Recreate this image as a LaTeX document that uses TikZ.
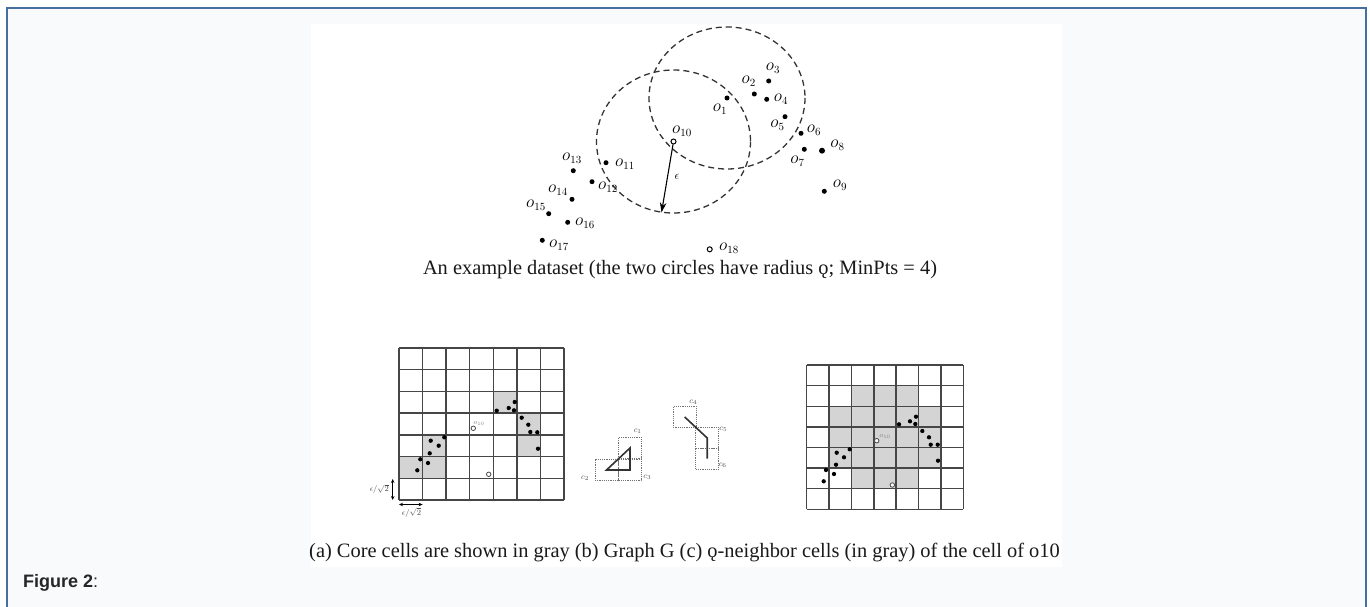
\documentclass[tikz,border=0pt]{standalone}
\usepackage{fontspec}
\setmainfont{Liberation Serif}
\newfontfamily\arialf{Liberation Sans}
\usetikzlibrary{arrows.meta}
\definecolor{framec}{RGB}{70,110,160}
\definecolor{pagebg}{RGB}{248,250,252}
\definecolor{gridc}{RGB}{70,70,70}
\definecolor{cellc}{RGB}{212,212,212}
\begin{document}
\begin{tikzpicture}[x=1pt,y=-1pt,
  dot/.style={circle,fill=black,inner sep=0pt,minimum size=5pt},
  hollow/.style={circle,draw=black,fill=white,line width=1pt,inner sep=0pt,minimum size=5pt},
  lbl/.style={inner sep=0pt,font=\fontsize{16}{16}\selectfont},
  gdot/.style={circle,fill=black,inner sep=0pt,minimum size=4.3pt},
  ghollow/.style={circle,draw=black!70,fill=white,line width=0.8pt,inner sep=0pt,minimum size=4.5pt},
  glbl/.style={inner sep=0pt,text=black!50,font=\fontsize{7}{7}\selectfont},
  dcirc/.style={dash pattern=on 6pt off 4pt,line width=1.3pt,draw=black!80},
  gline/.style={draw=gridc,line width=1.4pt},
  cellbox/.style={draw=black!55,line width=0.9pt,dash pattern=on 1.2pt off 1pt,inner sep=0pt,minimum width=23pt,minimum height=21.5pt},
  gedge/.style={line width=1.6pt,draw=black!80},
  clbl/.style={inner sep=0pt,text=black!70,font=\fontsize{8}{8}\selectfont},
  dim/.style={{Stealth[length=4pt,width=3.5pt]}-{Stealth[length=4pt,width=3.5pt]},line width=0.8pt},
  dimlbl/.style={inner sep=0pt,text=black!70,font=\fontsize{8}{8}\selectfont},
  capt/.style={inner sep=0pt,text=black!90}
]
\useasboundingbox (0,0) rectangle (1370,607);
\clip (0,0) rectangle (1370,607);
\fill[white] (0,0) rectangle (1370,607);
\draw[framec,fill=pagebg,line width=1.6pt] (7,8) rectangle (1366,640);
\fill[white] (311,24) rectangle (1062,567);

% ---------- top scatter ----------
\node[dot] (o1) at (727,98) {};
\node[hollow] (o10) at (673.5,141.5) {};
\draw[dcirc] (o1.center) ellipse [x radius=78, y radius=71];
\draw[dcirc] (o10.center) ellipse [x radius=77, y radius=71.5];
\node[dot] (o2) at (754.3,94) {};
\node[dot] (o3) at (768.7,81) {};
\node[dot] (o4) at (766.7,99.3) {};
\node[dot] (o5) at (785,116.7) {};
\node[dot] (o6) at (801,133.3) {};
\node[dot] (o7) at (804.3,149.3) {};
\node[dot,minimum size=6pt] (o8) at (822,150.7) {};
\node[dot] (o9) at (824.3,191.3) {};
\node[dot] (o11) at (606,162.7) {};
\node[dot] (o12) at (592,181.7) {};
\node[dot] (o13) at (573.3,170.7) {};
\node[dot] (o14) at (572,199.3) {};
\node[dot] (o15) at (548.7,213.7) {};
\node[dot] (o16) at (567.7,222.3) {};
\node[dot] (o17) at (542.3,240.3) {};
\node[hollow] (o18) at (709.7,249.3) {};

\node[lbl] (l1) at (720,109) {$o_1$};
\node[lbl] (l2) at (748.7,81) {$o_2$};
\node[lbl] (l3) at (773,68) {$o_3$};
\node[lbl] (l4) at (781,99) {$o_4$};
\node[lbl] (l5) at (777.5,125) {$o_5$};
\node[lbl] (l6) at (814,130) {$o_6$};
\node[lbl] (l7) at (797.5,161) {$o_7$};
\node[lbl] (l8) at (837.5,145) {$o_8$};
\node[lbl] (l9) at (840,185) {$o_9$};
\node[lbl] (l10) at (682,131) {$o_{10}$};
\node[lbl] (l11) at (625,164) {$o_{11}$};
\node[lbl] (l12) at (608,187) {$o_{12}$};
\node[lbl] (l13) at (572,158) {$o_{13}$};
\node[lbl] (l14) at (558,190) {$o_{14}$};
\node[lbl] (l15) at (536,205) {$o_{15}$};
\node[lbl] (l16) at (585,223) {$o_{16}$};
\node[lbl] (l17) at (559,245) {$o_{17}$};
\node[lbl] (l18) at (729,248) {$o_{18}$};

\coordinate (epsend) at (661.5,212.5);
\draw[line width=1.1pt,-{Stealth[length=10pt,width=6.5pt]}] (o10) -- (epsend);
\node[inner sep=0pt,font=\fontsize{12}{12}\selectfont] (eps) at (677,177) {$\epsilon$};

\node[capt,font=\fontsize{20.4}{21}\selectfont] (topcap) at (680,270) {An example dataset (the two circles have radius ǫ; MinPts = 4)};

% ---------- grid (a) ----------
\begin{scope}[shift={(399,348)},x=23.571pt,y=-21.714pt]
  \foreach \c/\r in {4/2,5/3,5/4,1/4,0/5,1/5}
    \fill[cellc] (\c,\r) rectangle (\c+1,\r+1);
  \foreach \i in {0,...,7} {
    \draw[gline] (\i,0) -- (\i,7);
    \draw[gline] (0,\i) -- (7,\i);
  }
\end{scope}
\foreach \n/\px/\py in {a1/514.7/402,a2/508.7/408,a3/514/410.3,a4/496.7/410.7,a5/521.7/417.7,a6/528.3/424.7,a7/530.3/432,a8/537.3/432.3,a9/538/448.7,a10/444.3/437.3,a11/430.7/440.7,a12/438.7/445.7,a13/429.7/453.3,a14/420.3/459.3,a15/428/463,a16/417.3/470.3}
  \node[gdot] (\n) at (\px,\py) {};
\node[ghollow] (ao10) at (473.3,428.3) {};
\node[glbl] (ao10l) at (479,423) {$o_{10}$};
\node[ghollow] (ao18) at (488.7,474.3) {};
\coordinate (va) at (392.7,479);
\coordinate (vb) at (392.7,500);
\draw[dim] (va) -- (vb);
\node[dimlbl,anchor=east] (vl) at (389,489) {$\epsilon/\sqrt{2}$};
\coordinate (ha) at (399,504.5);
\coordinate (hb) at (422.6,504.5);
\draw[dim] (ha) -- (hb);
\node[dimlbl] (hl) at (411.5,512.5) {$\epsilon/\sqrt{2}$};

% ---------- graph (b) ----------
\node[cellbox] (c1) at (630,448) {};
\node[cellbox] (c2) at (606.5,470) {};
\node[cellbox] (c3) at (630,470) {};
\draw[gedge] (c2.center) -- (c1.center) -- (c3.center) -- cycle;
\node[clbl] (c1l) at (637.7,431.7) {$c_1$};
\node[clbl] (c2l) at (585,478.7) {$c_2$};
\node[clbl] (c3l) at (647.3,477.3) {$c_3$};

\node[cellbox] (c4) at (684.7,417) {};
\node[cellbox] (c5) at (707.2,438) {};
\node[cellbox] (c6) at (707.2,458.7) {};
\draw[gedge] (c4.center) -- (c5.center) -- (c6.center);
\node[clbl] (c4l) at (693.3,402.7) {$c_4$};
\node[clbl] (c5l) at (723.3,429.3) {$c_5$};
\node[clbl] (c6l) at (722.7,465) {$c_6$};

% ---------- grid (c) ----------
\begin{scope}[shift={(806.7,365)},x=22.371pt,y=-20.614pt]
  \foreach \c in {2,3,4} {
    \fill[cellc] (\c,1) rectangle (\c+1,2);
    \fill[cellc] (\c,5) rectangle (\c+1,6);
  }
  \fill[cellc] (1,2) rectangle (6,5);
  \foreach \i in {0,...,7} {
    \draw[gline] (\i,0) -- (\i,7);
    \draw[gline] (0,\i) -- (7,\i);
  }
\end{scope}
\foreach \n/\px/\py in {b1/916/416.7,b2/910/421.3,b3/915.3/424,b4/899/424.3,b5/922.3/431,b6/929/437.3,b7/930.7/444.7,b8/937.7/444.7,b9/938/460.7,b10/849.7/449.3,b11/836.7/452.7,b12/844/457.3,b13/836/464.7,b14/826/470,b15/834/474,b16/823.7/481.3}
  \node[gdot] (\n) at (\px,\py) {};
\node[ghollow] (bo10) at (876.7,440.7) {};
\node[glbl] (bo10l) at (885,436.7) {$o_{10}$};
\node[ghollow] (bo18) at (892.3,485) {};

% ---------- captions ----------
\node[capt,font=\fontsize{20.4}{21}\selectfont] (botcap) at (684.5,553) {(a) Core cells are shown in gray (b) Graph G (c) ǫ-neighbor cells (in gray) of the cell of o10};
\node[anchor=west,inner sep=0pt,text=black!85,font=\arialf\fontsize{18}{18}\selectfont] (fig) at (23,583) {\textbf{Figure 2}:};
\end{tikzpicture}
\end{document}
